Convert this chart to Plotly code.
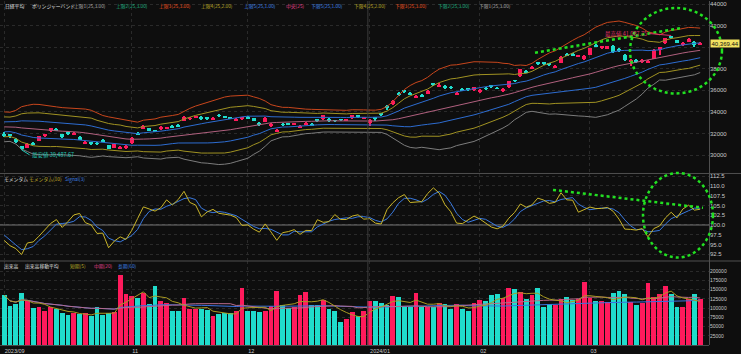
import pandas as pd
import plotly.graph_objects as go

# ---------------- data ----------------
warm_closes = [31624, 32170, 32227, 32333, 32619, 32711, 32939, 33037, 33241, 32991,
               32607, 32468, 32776, 32707, 33168, 33533, 33243, 33024, 32571, 32402,
               32679, 32315, 32372, 31873]

dates = (["2023-09-29"] +
         ["2023-10-%02d" % d for d in [2, 3, 4, 5, 6, 10, 11, 12, 13, 16, 17, 18, 19, 20, 23, 24, 25, 26, 27, 30, 31]] +
         ["2023-11-%02d" % d for d in [1, 2, 6, 7, 8, 9, 10, 13, 14, 15, 16, 17, 20, 21, 22, 24, 27, 28, 29, 30]] +
         ["2023-12-%02d" % d for d in [1, 4, 5, 6, 7, 8, 11, 12, 13, 14, 15, 18, 19, 20, 21, 22, 25, 26, 27, 28, 29]] +
         ["2024-01-%02d" % d for d in [4, 5, 9, 10, 11, 12, 15, 16, 17, 18, 19, 22, 23, 24, 25, 26, 29, 30, 31]] +
         ["2024-02-%02d" % d for d in [1, 2, 5, 6, 7, 8, 9, 13, 14, 15, 16, 19, 20, 21, 22, 26, 27, 28, 29]] +
         ["2024-03-%02d" % d for d in [1, 4, 5, 6, 7, 8, 11, 12, 13, 14, 15, 18, 19, 21, 22, 25, 26, 27, 28, 29]])

opens = [32000, 31950, 31500, 30800, 30700, 31100, 31350, 31800, 32200, 32400,
         31950, 32100, 31900, 31700, 31100, 31200, 31100, 31300, 30900, 30700,
         30600, 30700, 31100, 32050, 32450, 32500, 32300, 32400, 32450, 32700,
         32750, 33200, 33350, 33450, 33550, 33450, 33300, 33700, 33600, 33500,
         33200, 33350, 33550, 33400, 33000, 33100, 32750, 32200, 32850, 32900,
         32800, 32550, 32800, 32900, 33300, 33350, 33350, 33250, 33300, 33200,
         33400, 33650, 33400, 33000, 33450, 33850, 34500, 34700, 35700, 36000,
         35750, 35350, 35600, 35700, 36600, 36400, 36450, 36300, 35650, 36100,
         36150, 36000, 35850, 36200, 36450, 36200, 35900, 36300, 36950, 37300,
         37750, 38000, 38550, 38550, 38450, 38150, 38550, 39350, 39350, 39100,
         38900, 39300, 40150, 39900, 39850, 40100, 39750, 39300, 38600, 38800,
         38650, 38600, 38950, 39700, 40350, 40950, 40650, 40250, 40500, 40500,
         40250]
highs = [32100, 32000, 31550, 30850, 31150, 31200, 31800, 32000, 32550, 32500,
         32000, 32200, 32150, 31750, 31350, 31250, 31200, 31450, 30950, 31050,
         30800, 30950, 31650, 32150, 32750, 32550, 32350, 32700, 32650, 32800,
         32850, 33600, 33550, 33650, 33600, 33550, 33500, 33800, 33650, 33550,
         33400, 33550, 33600, 33450, 33050, 33500, 32950, 32400, 32950, 33000,
         33000, 32750, 33050, 32950, 33350, 33750, 33400, 33300, 33350, 33350,
         33750, 33700, 33550, 33350, 33550, 33950, 34600, 35150, 35850, 36050,
         35850, 35550, 35700, 36050, 36700, 36650, 36500, 36400, 35850, 36200,
         36250, 36350, 36100, 36300, 36500, 36300, 36200, 36900, 37000, 38000,
         37850, 38250, 38650, 38600, 38500, 38350, 39150, 39450, 39450, 39300,
         39250, 39950, 40300, 40150, 40150, 40200, 39900, 39350, 38900, 38900,
         38900, 38800, 39800, 40050, 40850, 41088, 40700, 40450, 40850, 40550,
         40450]
lows = [31700, 31600, 31150, 30488, 30650, 30900, 31300, 31700, 32150, 32200,
        31600, 31900, 31850, 31400, 31050, 30900, 30950, 31200, 30550, 30650,
        30550, 30600, 31050, 31850, 32400, 32200, 32100, 32350, 32400, 32500,
        32600, 33150, 33300, 33400, 33300, 33300, 33250, 33550, 33400, 33350,
        33150, 33300, 33350, 33150, 32700, 33050, 32650, 32150, 32700, 32750,
        32750, 32500, 32750, 32700, 33100, 33300, 33100, 33100, 33200, 33150,
        33350, 33450, 33350, 32700, 33200, 33650, 34200, 34650, 35450, 35800,
        35550, 35250, 35400, 35650, 36450, 36350, 36150, 36100, 35600, 35950,
        35950, 35950, 35800, 36050, 36250, 36100, 35850, 36250, 36800, 37250,
        37600, 37950, 38350, 38350, 38250, 38100, 38500, 39150, 39150, 39050,
        38850, 39250, 40000, 39850, 39800, 39500, 39600, 38700, 38300, 38550,
        38550, 38550, 38900, 39300, 40300, 40750, 40350, 40150, 40450, 40050,
        40200]
closes = [31858, 31760, 31238, 30527, 31075, 30995, 31747, 31937, 32495, 32316,
          31659, 32040, 32042, 31431, 31259, 31000, 31062, 31270, 30602, 30992,
          30697, 30859, 31602, 31950, 32708, 32272, 32166, 32646, 32568, 32585,
          32696, 33520, 33424, 33585, 33388, 33354, 33452, 33626, 33448, 33408,
          33321, 33487, 33432, 33231, 32776, 33446, 32858, 32308, 32792, 32844,
          32926, 32686, 32971, 32759, 33219, 33676, 33140, 33169, 33254, 33306,
          33681, 33540, 33464, 33288, 33377, 33763, 34442, 35050, 35577, 35902,
          35619, 35478, 35466, 35963, 36547, 36518, 36226, 36236, 35751, 36027,
          36066, 36287, 36011, 36158, 36354, 36161, 36120, 36863, 36897, 37964,
          37703, 38158, 38487, 38470, 38364, 38262, 39099, 39234, 39240, 39208,
          39166, 39911, 40109, 40098, 40091, 39599, 39689, 38820, 38798, 38696,
          38807, 38708, 39740, 40004, 40816, 40888, 40414, 40398, 40763, 40168,
          40369.44]
volumes = [135, 104, 110, 139, 117, 99, 103, 92, 103, 95,
           86, 79, 85, 82, 86, 76, 101, 81, 86, 88,
           188, 137, 131, 125, 140, 109, 159, 118, 113, 92,
           90, 126, 97, 95, 95, 94, 77, 82, 85, 85,
           92, 153, 90, 90, 87, 92, 105, 145, 108, 100,
           101, 135, 142, 108, 108, 121, 97, 92, 61, 70,
           88, 76, 90, 118, 118, 113, 108, 132, 130, 103,
           103, 141, 103, 103, 103, 112, 110, 96, 110, 97,
           90, 112, 121, 117, 133, 136, 127, 153, 150, 142,
           123, 133, 153, 103, 110, 108, 124, 128, 122, 124,
           169, 125, 118, 117, 114, 139, 144, 136, 114, 107,
           112, 168, 130, 136, 159, 137, 103, 103, 123, 137,
           124]
volumes = [v * 1000 for v in volumes]

price_ticks = [30000, 32000, 34000, 36000, 38000, 40000, 42000, 44000]
mom_ticks = [92.5, 95.0, 97.5, 100.0, 102.5, 105.0, 107.5, 110.0, 112.5]
vol_ticks = [25000, 50000, 75000, 100000, 125000, 150000, 175000, 200000]
month_dates = ["2023-09-29", "2023-11-01", "2023-12-01", "2024-01-04", "2024-02-01", "2024-03-01"]
month_labels = ["2023/09", "11", "12", "2024/01", "02", "03"]

# ---------------- indicators ----------------
n = len(closes)
idx = list(range(n))
k = len(warm_closes)
allc = pd.Series(warm_closes + closes, dtype=float)
ma = allc.rolling(25).mean()
sd = allc.rolling(25).std(ddof=0)
mid = ma.iloc[k:].values
sdv = sd.iloc[k:].values
mom = (allc / allc.shift(10) * 100)
sig = mom.rolling(3).mean()
mom = mom.iloc[k:].values
sig = sig.iloc[k:].values
vs = pd.Series(volumes, dtype=float)
v5 = vs.rolling(5, min_periods=1).mean().values
v20 = vs.rolling(20, min_periods=1).mean().values
v60 = vs.rolling(60, min_periods=1).mean().values

UP = "#ff1a5c"
DN = "#20dccc"
cols = [UP if c >= o else DN for o, c in zip(opens, closes)]

tickpos = [dates.index(d) for d in month_dates]

fig = go.Figure()

band_specs = [
    (-3, "#7c7c7c"), (-2, "#a09222"), (-1, "#2d6cd0"),
    (1, "#2d6cd0"), (2, "#a09222"), (3, "#c8461c"),
]
for mult, colr in band_specs:
    fig.add_trace(go.Scatter(x=idx, y=mid + mult * sdv, mode="lines",
                             line=dict(color=colr, width=1), yaxis="y", hoverinfo="skip"))
fig.add_trace(go.Scatter(x=idx, y=mid, mode="lines", line=dict(color="#b0607e", width=1),
                         yaxis="y", hoverinfo="skip"))

# wicks
fig.add_trace(go.Bar(x=idx, base=lows, y=[h - l for h, l in zip(highs, lows)], width=0.17,
                     marker=dict(color=cols, line=dict(width=0)), yaxis="y"))
# bodies
fig.add_trace(go.Bar(x=idx, base=[min(o, c) for o, c in zip(opens, closes)],
                     y=[max(abs(c - o), 60) for o, c in zip(opens, closes)], width=0.66,
                     marker=dict(color=cols, line=dict(width=0)), yaxis="y"))

# momentum
fig.add_trace(go.Scatter(x=[-1, n + 1], y=[100, 100], mode="lines",
                         line=dict(color="#777777", width=1), yaxis="y2"))
fig.add_trace(go.Scatter(x=idx, y=sig, mode="lines", line=dict(color="#3a7ae0", width=1), yaxis="y2"))
fig.add_trace(go.Scatter(x=idx, y=mom, mode="lines", line=dict(color="#c9b52a", width=1), yaxis="y2"))

# volume
fig.add_trace(go.Bar(x=idx, y=volumes, width=0.84, marker=dict(color=cols, line=dict(width=0)), yaxis="y3"))
fig.add_trace(go.Scatter(x=idx, y=v60, mode="lines", line=dict(color="#3a72e0", width=1), yaxis="y3"))
fig.add_trace(go.Scatter(x=idx, y=v20, mode="lines", line=dict(color="#b86a8a", width=1), yaxis="y3"))
fig.add_trace(go.Scatter(x=idx, y=v5, mode="lines", line=dict(color="#a89a22", width=1), yaxis="y3"))

BG = "#0e0e0e"
GRID = "#2a2a2a"
NUMF = "Liberation Sans, Arial"
TF = dict(family=NUMF, size=6, color="#c8c8c8")
TFV = dict(family=NUMF, size=5, color="#c8c8c8")
JP = "Noto Sans CJK JP"

fig.update_layout(
    width=741, height=354, margin=dict(l=0, r=32, t=0, b=8),
    paper_bgcolor=BG, plot_bgcolor=BG, showlegend=False, barmode="overlay",
    bargap=0, hovermode=False,
    xaxis=dict(domain=[0, 1], range=[-0.724, 121.52], anchor="y3",
               tickvals=tickpos, ticktext=month_labels, ticklabelposition="outside right",
               tickangle=0, tickfont=dict(family=NUMF, size=5.5, color="#c8c8c8"),
               ticks="", showgrid=True, gridcolor=GRID, griddash="dot", zeroline=False,
               showline=True, linecolor="#4a4a4a", linewidth=1),
    yaxis=dict(domain=[0.5, 1], range=[28341, 44286], side="right", anchor="x",
               tickvals=price_ticks,
               ticktext=["" if t == 40000 else str(t) for t in price_ticks],
               tickfont=TF, showgrid=True, gridcolor=GRID, griddash="dot",
               zeroline=False, ticks=""),
    yaxis2=dict(domain=[0.2457, 0.4971], range=[90.92, 113.05], side="right", anchor="x",
                tickvals=mom_ticks, ticktext=["%.1f" % t for t in mom_ticks], tickfont=TF,
                showgrid=True, gridcolor=GRID, griddash="dot", zeroline=False, ticks=""),
    yaxis3=dict(domain=[0, 0.2428], range=[0, 226400], side="right", anchor="x",
                tickvals=vol_ticks, ticktext=[str(t) for t in vol_ticks], tickfont=TFV,
                showgrid=True, gridcolor=GRID, griddash="dot", zeroline=False, ticks=""),
)

shapes = []
for yp in [0.4986, 0.2442]:
    shapes.append(dict(type="line", xref="paper", yref="paper", x0=0, x1=1.046, y0=yp, y1=yp,
                       line=dict(color="#505050", width=1)))
shapes.append(dict(type="line", xref="paper", yref="paper", x0=1.0007, x1=1.0007, y0=0, y1=1,
                   line=dict(color="#505050", width=1)))
for yr in ["y", "y2", "y3"]:
    shapes.append(dict(type="line", xref="x", yref=yr + " domain", x0=62.7, x1=62.7, y0=0, y1=1,
                       line=dict(color="#3c3c3c", width=1)))
G = dict(color="#22e022", width=2.5, dash="dot")
shapes.append(dict(type="circle", xref="paper", yref="paper", x0=0.8886, x1=1.0183,
                   y0=0.7312, y1=0.9798, line=G))
shapes.append(dict(type="line", xref="paper", yref="paper", x0=535 / 709, x1=680 / 709,
                   y0=(346 - 52) / 346, y1=(346 - 27.5) / 346, line=G))
shapes.append(dict(type="circle", xref="paper", yref="paper", x0=643 / 709, x1=713 / 709,
                   y0=(346 - 258) / 346, y1=(346 - 173) / 346, line=G))
shapes.append(dict(type="line", xref="paper", yref="paper", x0=553 / 709, x1=703 / 709,
                   y0=(346 - 190) / 346, y1=(346 - 208) / 346, line=G))
fig.update_layout(shapes=shapes)

ann = []
def txt(x, y, s, c, size=4.8):
    ann.append(dict(xref="paper", yref="paper", x=x / 709, y=(346 - y) / 346, text=s,
                    showarrow=False, xanchor="left", yanchor="middle",
                    font=dict(family=JP, size=size, color=c)))

legend_main = [
    (2.5, "日経平均", "#e0e0e0"), (30, "ボリンジャーバンド", "#e0e0e0"),
    (72, "上限1(25,3.00)", "#a8a8a8"), (114, "上限2(25,3.00)", "#1fb080"),
    (157, "上限3(25,3.00)", "#e8501e"), (199, "上限4(25,2.00)", "#b8a826"),
    (242, "上限5(25,1.00)", "#3d82e6"), (284, "中央(25)", "#e0408a"),
    (309, "下限5(25,1.00)", "#3d82e6"), (352, "下限4(25,2.00)", "#b8a826"),
    (393, "下限3(25,3.00)", "#e8501e"), (436, "下限2(25,3.00)", "#1fb080"),
    (477, "下限1(25,3.00)", "#a8a8a8"),
]
for x, s, c in legend_main:
    txt(x, 5, s, c)
for x, s, c in [(1.7, "モメンタム", "#e0e0e0"), (27, "モメンタム(10)", "#c9b52a"), (63, "Signal(3)", "#3d82e6")]:
    txt(x, 179, s, c)
for x, s, c in [(1.7, "出来高", "#e0e0e0"), (23, "出来高移動平均", "#e0e0e0"), (68, "短期(5)", "#b8a826"),
                (92, "中期(20)", "#e0408a"), (116, "長期(60)", "#3d82e6")]:
    txt(x, 266.5, s, c)

ann.append(dict(x=3, y=lows[3], xref="x", yref="y", text="最安値 30,487.67", showarrow=True,
                arrowhead=0, arrowwidth=1, arrowcolor="#20c8b8", ax=8, ay=5, xanchor="left",
                font=dict(family=JP, size=5.5, color="#20c8b8")))
ann.append(dict(x=115, y=highs[115], xref="x", yref="y", text="最高値 41,087.75", showarrow=True,
                arrowhead=0, arrowwidth=1, arrowcolor="#e0306a", ax=-22, ay=-2, xanchor="right",
                font=dict(family=JP, size=5.5, color="#e0306a")))
ann.append(dict(xref="paper", yref="y", x=1.002, y=closes[-1], text="40,369.44", showarrow=False,
                xanchor="left", yanchor="middle", bgcolor="#f2e260", borderpad=0.5,
                font=dict(family=NUMF, size=6, color="#111111")))
fig.update_layout(annotations=ann)

fig.write_html("out.html")
